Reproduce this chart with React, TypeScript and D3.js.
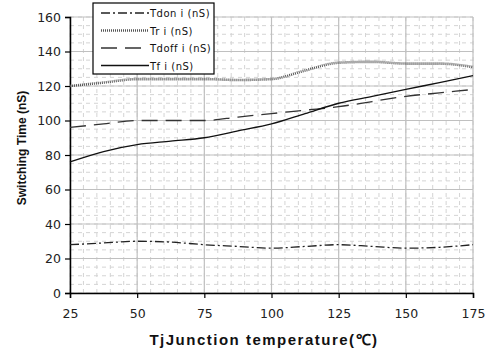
import React, { useEffect, useRef } from 'react';
import * as d3 from 'd3';

const temps = [25, 37.5, 50, 62.5, 75, 87.5, 100, 112.5, 125, 137.5, 150, 162.5, 175];
const tdon = [28, 29, 30, 29.5, 28, 27, 26, 27, 28, 27, 26, 26.5, 28];
const tri = [120, 122, 124, 124, 124, 123.5, 124, 129, 133.5, 134, 133, 133, 131];
const tdoff = [96, 98, 100, 100, 100, 102, 104, 106, 108, 111, 114, 116, 118];
const tf = [76, 82, 86, 88, 90, 94, 98, 104, 110, 114, 118, 122, 126];
const xTicks = [25, 50, 75, 100, 125, 150, 175];
const yTicks = [0, 20, 40, 60, 80, 100, 120, 140, 160];
const seriesNames = ['Tdon i (nS)', 'Tr i (nS)', 'Tdoff i (nS)', 'Tf i (nS)'];

const W = 489;
const H = 352;
const margin = { top: 17, right: 16, bottom: 59, left: 70 };

const styles = [
  { color: '#222', width: 1.3, dash: '9,3,2,3' },
  { color: '#555', width: 2.6, dash: '1,1' },
  { color: '#333', width: 1.3, dash: '16,8' },
  { color: '#111', width: 1.3, dash: null },
];

export default function App() {
  const ref = useRef<SVGSVGElement>(null);

  useEffect(() => {
    const svg = d3.select(ref.current);
    svg.selectAll('*').remove();
    const iw = W - margin.left - margin.right;
    const ih = H - margin.top - margin.bottom;

    const x = d3.scaleLinear().domain([25, 175]).range([0, iw]);
    const y = d3.scaleLinear().domain([0, 160]).range([ih, 0]);

    const g = svg.append('g').attr('transform', `translate(${margin.left},${margin.top})`);

    // minor dashed grid
    const minorX = d3.range(25, 176, 5);
    const minorY = d3.range(0, 161, 5);
    g.selectAll('.mx').data(minorX).enter().append('line')
      .attr('x1', d => x(d)).attr('x2', d => x(d)).attr('y1', 0).attr('y2', ih)
      .attr('stroke', '#d4d4d4').attr('stroke-width', 1).attr('stroke-dasharray', '4,4');
    g.selectAll('.my').data(minorY).enter().append('line')
      .attr('y1', d => y(d)).attr('y2', d => y(d)).attr('x1', 0).attr('x2', iw)
      .attr('stroke', '#d4d4d4').attr('stroke-width', 1).attr('stroke-dasharray', '4,4');

    // major grid
    g.selectAll('.gx').data(xTicks).enter().append('line')
      .attr('x1', d => x(d)).attr('x2', d => x(d)).attr('y1', 0).attr('y2', ih)
      .attr('stroke', '#c0c0c0').attr('stroke-width', 1.2);
    g.selectAll('.gy').data(yTicks).enter().append('line')
      .attr('y1', d => y(d)).attr('y2', d => y(d)).attr('x1', 0).attr('x2', iw)
      .attr('stroke', '#c0c0c0').attr('stroke-width', 1.2);

    // axes
    const xa = g.append('g').attr('transform', `translate(0,${ih})`)
      .call(d3.axisBottom(x).tickValues(xTicks).tickSize(5).tickPadding(11));
    const ya = g.append('g').call(d3.axisLeft(y).tickValues(yTicks).tickSize(5).tickPadding(4));
    [xa, ya].forEach(a => {
      a.select('.domain').attr('stroke', '#000').attr('stroke-width', 1.5);
      a.selectAll('.tick line').attr('stroke', '#000').attr('stroke-width', 1.2);
      a.selectAll('.tick text').attr('fill', '#222')
        .style('font-family', 'DejaVu Sans, Verdana, sans-serif').style('font-size', '12.5px');
    });

    const lineGen = d3.line<number>().x((_, i) => x(temps[i])).y(d => y(d)).curve(d3.curveMonotoneX);
    [tdon, tri, tdoff, tf].forEach((s, i) => {
      const st = styles[i];
      const p = g.append('path').datum(s).attr('d', lineGen).attr('fill', 'none')
        .attr('stroke', st.color).attr('stroke-width', st.width);
      if (st.dash) p.attr('stroke-dasharray', st.dash);
    });

    // legend
    const lg = svg.append('g').attr('transform', 'translate(93,3)');
    lg.append('rect').attr('width', 121).attr('height', 71).attr('fill', '#fff')
      .attr('stroke', '#000').attr('stroke-width', 1.2);
    seriesNames.forEach((n, i) => {
      const st = styles[i];
      const yy = 10 + i * 17.5;
      const l = lg.append('line').attr('x1', 8).attr('x2', 56).attr('y1', yy).attr('y2', yy)
        .attr('stroke', st.color).attr('stroke-width', st.width);
      if (st.dash) l.attr('stroke-dasharray', st.dash);
      lg.append('text').attr('x', 57).attr('y', yy + 4).text(n)
        .attr('fill', '#111').style('font-family', 'DejaVu Sans, sans-serif')
        .style('font-size', '10px').style('letter-spacing', '0.5px');
    });

    // axis titles
    svg.append('text').attr('transform', 'translate(26,148) rotate(-90)')
      .attr('text-anchor', 'middle').text('Switching Time (nS)')
      .attr('fill', '#111').style('font-family', 'Liberation Sans, Arial, sans-serif')
      .style('font-weight', 'bold').style('font-size', '12px');
    svg.append('text').attr('x', 264).attr('y', 345)
      .attr('text-anchor', 'middle').text('TjJunction temperature(℃)')
      .attr('fill', '#111').style('font-family', 'Liberation Sans, Arial, sans-serif')
      .style('font-weight', 'bold').style('font-size', '15px').style('letter-spacing', '1.5px');
  }, []);

  return (
    <div style={{ position: 'absolute', left: 0, top: 0 }}>
      <svg ref={ref} width={W} height={H} style={{ display: 'block', background: '#fff' }} />
    </div>
  );
}
